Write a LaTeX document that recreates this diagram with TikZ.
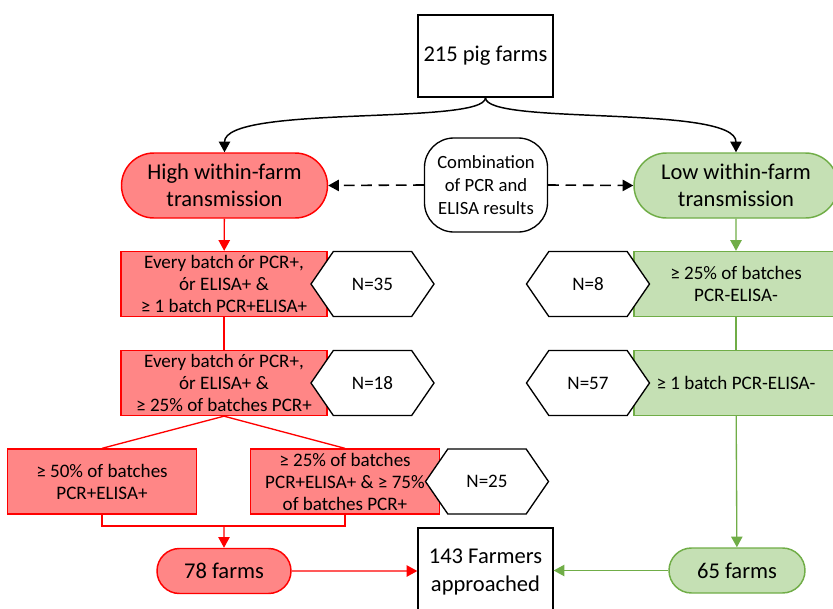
\documentclass[tikz,border=0pt]{standalone}
\usepackage{fontspec}
\setmainfont{Carlito}
\usetikzlibrary{arrows.meta,shapes.misc,shapes.symbols}

\definecolor{hiline}{RGB}{255,0,0}
\definecolor{hifill}{RGB}{255,134,134}
\definecolor{loline}{RGB}{112,173,71}
\definecolor{lofill}{RGB}{197,224,180}

\tikzset{
  bigtext/.style={font=\fontsize{16.9}{20.5}\selectfont, align=center, inner sep=0pt},
  smalltext/.style={font=\fontsize{14.3}{16.5}\selectfont, align=center, inner sep=0pt},
  tip/.style={-{Triangle[length=8pt,width=8.5pt]}},
  hibox/.style={smalltext, draw=hiline, fill=hifill, line width=1pt, minimum height=48.75pt},
  lobox/.style={smalltext, draw=loline, fill=lofill, line width=1pt, minimum height=48.75pt, minimum width=153pt},
  hexnode/.style={smalltext, shape=signal, signal to=west and east, signal pointer angle=111,
    draw=black, fill=white, line width=1pt, minimum width=92.25pt, minimum height=48.75pt},
  pill/.style={bigtext, rounded rectangle, line width=1.1pt},
}

\begin{document}
\begin{tikzpicture}[x=0.75pt,y=0.75pt,yscale=-1,xscale=1]
\path[use as bounding box] (0,0) rectangle (833,608);

% Start box
\node[bigtext, draw, line width=1pt, minimum width=101.25pt, minimum height=61.5pt] (farms215) at (485.5,56) {215 pig farms};

% Transmission groups
\node[pill, draw=hiline, fill=hifill, minimum width=154.5pt, minimum height=48.75pt] (high) at (224.5,185.5) {High within-farm\\transmission};
\node[pill, draw=loline, fill=lofill, minimum width=153pt, minimum height=48.75pt] (low) at (736,185.5) {Low within-farm\\transmission};
\node[smalltext, font=\fontsize{14}{17}\selectfont, draw, line width=1pt, rounded corners=22pt, minimum width=92.25pt, minimum height=70.5pt] (combo) at (486,185) {Combination\\of PCR and\\ELISA results};

% Red criteria boxes
\node[hibox, minimum width=154.5pt] (rb1) at (224,284) {Every batch ór PCR+,\\ór ELISA+ \&\\≥ 1 batch PCR+ELISA+};
\node[hibox, minimum width=154.5pt] (rb2) at (224,383) {Every batch ór PCR+,\\ór ELISA+ \&\\≥ 25\% of batches PCR+};
\node[hibox, minimum width=141.75pt] (rb3) at (102,481.5) {≥ 50\% of batches\\PCR+ELISA+};
\node[hibox, minimum width=141.75pt] (rb4) at (345,481.5) {≥ 25\% of batches\\PCR+ELISA+ \& ≥ 75\%\\of batches PCR+};

% Green criteria boxes
\node[lobox] (gb1) at (736,284) {≥ 25\% of batches\\PCR-ELISA-};
\node[lobox] (gb2) at (736,383) {≥ 1 batch PCR-ELISA-};

% Counts
\node[hexnode] (n35) at (372.5,284) {N=35};
\node[hexnode] (n18) at (372.5,383) {N=18};
\node[hexnode] (n25) at (487,481.5) {N=25};
\node[hexnode] (n8) at (588,284) {N=8};
\node[hexnode] (n57) at (588,383) {N=57};

% Outcome
\node[pill, draw=hiline, fill=hifill, minimum width=100.5pt, minimum height=33.75pt] (f78) at (224,571) {78 farms};
\node[pill, draw=loline, fill=lofill, minimum width=102pt, minimum height=33.75pt] (f65) at (737,570.5) {65 farms};
\node[bigtext, draw, fill=white, line width=1pt, minimum width=101.25pt, minimum height=66pt] (f143) at (485.5,572) {143 Farmers\\approached};

% Curved split
\draw[tip, line width=1.1pt] (farms215.south) .. controls +(0,28) and +(0,-48) .. (high.north);
\draw[tip, line width=1.1pt] (farms215.south) .. controls +(0,28) and +(0,-48) .. (low.north);

% Dashed links
\draw[tip, line width=1.2pt, dash pattern={on 8pt off 5pt}] (combo.west) -- (high.east);
\draw[tip, line width=1.2pt, dash pattern={on 8pt off 5pt}] (combo.east) -- (low.west);

% Red flow
\draw[tip, hiline, line width=1pt] (high) -- (rb1);
\draw[hiline, line width=1pt] (rb1) -- (rb2);
\draw[hiline, line width=1pt] (rb2.south) -- (rb3.north);
\draw[hiline, line width=1pt] (rb2.south) -- (rb4.north);
\coordinate (join) at (224,526);
\draw[hiline, line width=1pt] (rb3.south) |- (join) -| (rb4.south);
\draw[tip, hiline, line width=1pt] (join) -- (f78);
\draw[tip, hiline, line width=1pt] (f78) -- (f78 -| f143.west);

% Green flow
\draw[tip, loline, line width=1pt] (low) -- (gb1);
\draw[loline, line width=1pt] (gb1) -- (gb2);
\draw[tip, loline, line width=1pt] (gb2) -- (f65);
\draw[tip, loline, line width=1pt] (f65) -- (f65 -| f143.east);

\end{tikzpicture}
\end{document}
